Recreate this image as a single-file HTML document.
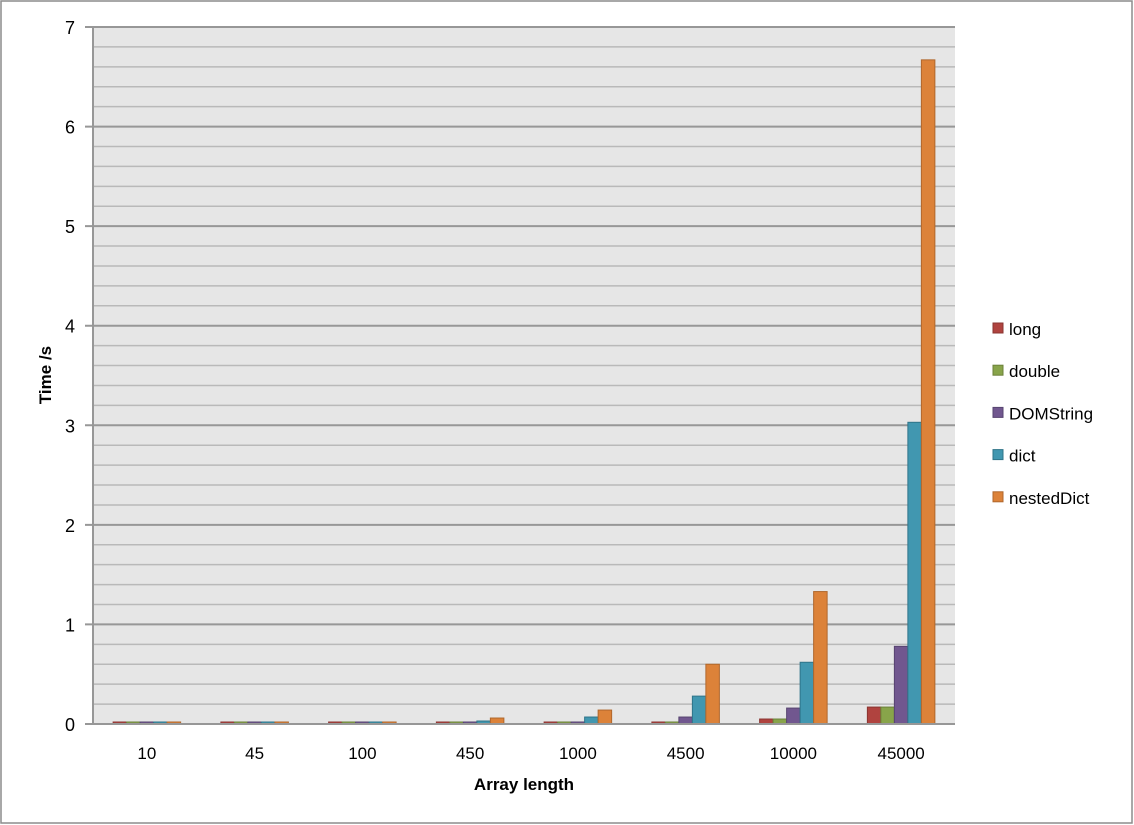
<!DOCTYPE html>
<html><head><meta charset="utf-8"><style>
html,body{margin:0;padding:0;background:#fff;}
svg{display:block;font-family:"Liberation Sans",Calibri,sans-serif;}
</style></head><body>
<svg id="chart" width="1134" height="825" viewBox="0 0 1134 825" xmlns="http://www.w3.org/2000/svg">
<rect x="1" y="1" width="1131" height="822" fill="#fff" stroke="#8c8c8c" stroke-width="1.5"/>
<rect x="93" y="27" width="862" height="697" fill="#e6e6e6"/>
<g id="grid"></g>
<g id="bars"></g>
<g id="axes"></g>
<text transform="translate(51,375) rotate(-90)" text-anchor="middle" font-size="17" font-weight="bold" fill="#000">Time /s</text>
<text x="524" y="790" text-anchor="middle" font-size="17" font-weight="bold" fill="#000">Array length</text>
<g id="legend"></g>
</svg>
<script>
const categories = ["10","45","100","450","1000","4500","10000","45000"];
const seriesNames = ["long","double","DOMString","dict","nestedDict"];
const longVals = [0.002,0.002,0.002,0.005,0.01,0.02,0.05,0.17];
const doubleVals = [0.002,0.002,0.002,0.005,0.01,0.02,0.05,0.17];
const domStringVals = [0.002,0.002,0.002,0.01,0.02,0.07,0.16,0.78];
const dictVals = [0.002,0.002,0.002,0.03,0.07,0.28,0.62,3.03];
const nestedDictVals = [0.002,0.002,0.002,0.06,0.14,0.60,1.33,6.67];
const yTicks = [0,1,2,3,4,5,6,7];

const allSeries = [longVals,doubleVals,domStringVals,dictVals,nestedDictVals];
const fills = ["#b0433f","#88a44a","#71578f","#4197b0","#dc8239"];
const strokes = ["#8a3431","#6b813a","#574470","#2f7489","#b0672c"];
const NS = "http://www.w3.org/2000/svg";
const X0 = 93, X1 = 955, Y0 = 724, Y1 = 27, YMAX = 7;
const catW = (X1 - X0) / categories.length;
const barW = 13.5;
function yScale(v){ return Y0 - (v / YMAX) * (Y0 - Y1); }
function xCenter(i){ return X0 + catW * (i + 0.5); }
function mk(tag, attrs){ const e = document.createElementNS(NS, tag); for (const k in attrs) e.setAttribute(k, attrs[k]); return e; }

const grid = document.getElementById('grid');
for (let v = 0.2; v < YMAX + 0.001; v += 0.2) {
  const major = Math.abs(v - Math.round(v)) < 0.01;
  const y = yScale(v);
  const l = mk('line', {x1: major ? X0 - 8 : X0, x2: X1, y1: y, y2: y, stroke: major ? '#979797' : '#b9b9b9', 'stroke-width': major ? 2 : 1.5});
  
  
  grid.appendChild(l);
}

const bars = document.getElementById('bars');
allSeries.forEach((vals, s) => {
  vals.forEach((v, i) => {
    const x = xCenter(i) - 2.5 * barW + s * barW;
    let y = yScale(v);
    let h = Y0 - y;
    if (h < 2) { h = 2; y = Y0 - 2; }
    const r = mk('rect', {x: x, y: y, width: barW, height: h, fill: fills[s], stroke: strokes[s], 'stroke-width': 1});
    
    
    bars.appendChild(r);
  });
});

const axes = document.getElementById('axes');
const ya = mk('line', {x1: X0, x2: X0, y1: Y1, y2: Y0, stroke: '#979797', 'stroke-width': 2});


axes.appendChild(ya);
const xa = mk('line', {x1: X0 - 8, x2: X1, y1: Y0, y2: Y0, stroke: '#979797', 'stroke-width': 2});


axes.appendChild(xa);
yTicks.forEach(t => {
  const tx = mk('text', {x: 75, y: yScale(t) + 7, 'text-anchor': 'end', 'font-size': 18, fill: '#000'});
  tx.textContent = t;
  
  
  axes.appendChild(tx);
});
categories.forEach((c, i) => {
  const tx = mk('text', {x: xCenter(i), y: 759, 'text-anchor': 'middle', 'font-size': 17, fill: '#000'});
  tx.textContent = c;
  
  
  axes.appendChild(tx);
});

const legend = document.getElementById('legend');
seriesNames.forEach((n, s) => {
  const y = 329 + s * 42.2;
  const g = mk('g', {});
  
  
  g.appendChild(mk('rect', {x: 993, y: y - 6, width: 10, height: 10, fill: fills[s], stroke: strokes[s], 'stroke-width': 1}));
  const t = mk('text', {x: 1009, y: y + 6, 'font-size': 17, fill: '#000'});
  t.textContent = n;
  g.appendChild(t);
  legend.appendChild(g);
});
</script>
</body></html>
